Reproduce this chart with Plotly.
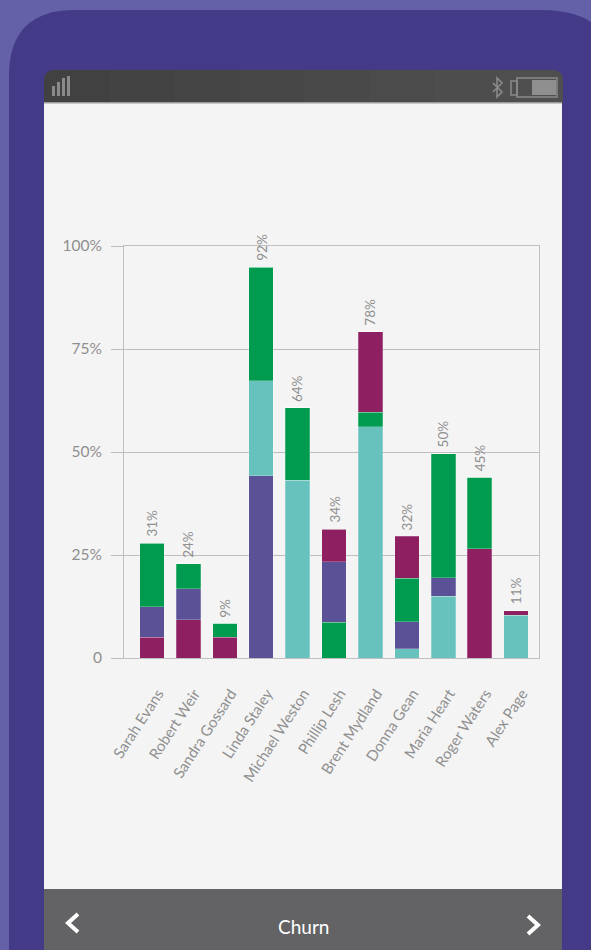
import plotly.graph_objects as go

W, H = 591, 950

names = ["Sarah Evans", "Robert Weir", "Sandra Gossard", "Linda Staley", "Michael Weston", "Phillip Lesh",
         "Brent Mydland", "Donna Gean", "Maria Heart", "Roger Waters", "Alex Page"]
labels = ["31%", "24%", "9%", "92%", "64%", "34%", "78%", "32%", "50%", "45%", "11%"]

GREEN, PURPLE, MAROON, TEAL = "#009b4e", "#5a5197", "#8e1f60", "#67c2bd"

layer1 = [5.0, 9.3, 5.0, 44.2, 43.2, 8.7, 56.1, 2.2, 15.0, 26.5, 10.4]
layer2 = [7.5, 7.45, 3.4, 23.1, 17.5, 14.7, 3.6, 6.6, 4.5, 17.4, 1.1]
layer3 = [15.4, 6.1, 0, 27.6, 0, 7.9, 19.5, 10.6, 30.1, 0, 0]
layer4 = [0, 0, 0, 0, 0, 0, 0, 10.2, 0, 0, 0]
colors1 = [MAROON, MAROON, MAROON, PURPLE, TEAL, GREEN, TEAL, TEAL, TEAL, MAROON, TEAL]
colors2 = [PURPLE, PURPLE, GREEN, TEAL, GREEN, PURPLE, GREEN, PURPLE, PURPLE, GREEN, MAROON]
colors3 = [GREEN, GREEN, GREEN, GREEN, GREEN, MAROON, MAROON, GREEN, GREEN, GREEN, MAROON]
colors4 = [MAROON] * 11

y_ticks = [0, 25, 50, 75, 100]
y_tick_text = ["0", "25%", "50%", "75%", "100%"]

FONT = "Lato"
GRAY = "#8f8f8f"


def X(v):
    return v / W


def Y(v):
    return 1 - v / H


def path(points, close=True):
    s = ""
    for p in points:
        s += ("M" if not s else "L") + f"{X(p[0]):.5f},{Y(p[1]):.5f} "
    return s + ("Z" if close else "")


def rounded(x0, y0, x1, y1, tl=0, tr=0, br=0, bl=0):
    def pt(a, b):
        return f"{X(a):.5f},{Y(b):.5f}"
    s = f"M{pt(x0 + tl, y0)} L{pt(x1 - tr, y0)} "
    if tr:
        s += f"Q{pt(x1, y0)} {pt(x1, y0 + tr)} "
    s += f"L{pt(x1, y1 - br)} "
    if br:
        s += f"Q{pt(x1, y1)} {pt(x1 - br, y1)} "
    s += f"L{pt(x0 + bl, y1)} "
    if bl:
        s += f"Q{pt(x0, y1)} {pt(x0, y1 - bl)} "
    s += f"L{pt(x0, y0 + tl)} "
    if tl:
        s += f"Q{pt(x0, y0)} {pt(x0 + tl, y0)} "
    return s + "Z"


def fill(p, color):
    return dict(type="path", xref="paper", yref="paper", path=p, fillcolor=color, line=dict(width=0), layer="below")


def stroke(p, color, width):
    return dict(type="path", xref="paper", yref="paper", path=p, line=dict(color=color, width=width), layer="below")


shapes = [
    fill(rounded(0, 0, W, H), "#6561a9"),
    fill(rounded(9, 10, 620, H + 60, tl=66, tr=78), "#433b87"),
    fill(rounded(44, 103, 562, 889), "#f4f4f4"),
]
# status bar: a gentle left-to-right gradient built from bands
band_cols = ["#414141", "#434343", "#454545", "#474747", "#494949", "#4b4b4b", "#4d4d4d", "#4f4f4f"]
band_w = (563 - 44) / len(band_cols)
for i, c in enumerate(band_cols):
    shapes.append(fill(rounded(44 + i * band_w, 70, 44 + (i + 1) * band_w + (0.5 if i < 7 else 0), 103,
                               tl=11 if i == 0 else 0, tr=11 if i == 7 else 0), c))
shapes.append(fill(rounded(44, 102, 562, 103.5), "#9a9a9a"))
shapes.append(fill(rounded(44, 889, 562, H + 8, bl=10, br=10), "#636365"))
# signal bars
for bx0, bx1, by in [(52, 55, 86), (57, 60, 82), (62, 65, 78), (67, 70, 76)]:
    shapes.append(fill(rounded(bx0, by, bx1, 96), "#8a8a8a"))
# bluetooth
shapes.append(stroke(path([(493, 83), (502, 92), (497, 97), (497, 78), (502, 83), (493, 92)], close=False), "#8a8a8a", 1.6))
# battery
shapes.append(stroke(rounded(511, 81, 517, 95), "#8a8a8a", 1.5))
shapes.append(stroke(rounded(517, 78, 557, 97), "#8a8a8a", 1.5))
shapes.append(fill(rounded(532, 80, 556, 95), "#8f8f8f"))
# chevrons
shapes.append(stroke(path([(78, 914), (68, 923), (78, 932)], close=False), "#ffffff", 4))
shapes.append(stroke(path([(528, 916), (538, 925), (528, 934)], close=False), "#ffffff", 4))

fig = go.Figure()
for vals, cols in [(layer1, colors1), (layer2, colors2), (layer3, colors3), (layer4, colors4)]:
    fig.add_bar(x=names, y=vals, marker=dict(color=cols, line=dict(color="rgba(255,255,255,0.3)", width=0.8)),
                width=0.673, showlegend=False)

totals = [a + b + c + d for a, b, c, d in zip(layer1, layer2, layer3, layer4)]
annotations = [
    dict(x=n, y=t, xref="x", yref="y", text=l, showarrow=False, textangle=-90, yanchor="bottom", yshift=4,
         font=dict(family=FONT, size=13.5, color=GRAY))
    for n, t, l in zip(names, totals, labels)
]
annotations.append(dict(x=X(303), y=Y(926), xref="paper", yref="paper", text="Churn", showarrow=False,
                        yanchor="middle", xanchor="center",
                        font=dict(family=FONT, size=19, color="#ffffff")))

fig.update_layout(
    width=W, height=H, margin=dict(l=0, r=0, t=0, b=0), autosize=False,
    paper_bgcolor="#6561a9", plot_bgcolor="rgba(0,0,0,0)", barmode="stack", showlegend=False,
    shapes=shapes, annotations=annotations,
    xaxis=dict(domain=[X(124), X(539)], range=[-0.77, 10.63], type="category", tickangle=-57,
               tickfont=dict(family=FONT, size=15, color=GRAY), showgrid=False, ticks="", ticklen=0,
               showline=True, linecolor="#c0c0c0", linewidth=1, mirror=True,
               ticklabelstandoff=20, ticklabelshift=6, automargin=False),
    yaxis=dict(domain=[Y(658), Y(246)], range=[0, 100], tickvals=y_ticks, ticktext=y_tick_text,
               tickfont=dict(family=FONT, size=15.5, color=GRAY), showgrid=True, gridcolor="#bdbdbd", gridwidth=1,
               ticks="outside", ticklen=12, tickcolor="#bdbdbd", tickwidth=1, zeroline=False,
               ticklabelstandoff=6,
               showline=True, linecolor="#c0c0c0", linewidth=1, mirror=True, automargin=False),
)
fig.write_html("out.html", config={"displayModeBar": False},
               post_script="document.body.style.margin='0';document.documentElement.style.background='#6561a9';")
